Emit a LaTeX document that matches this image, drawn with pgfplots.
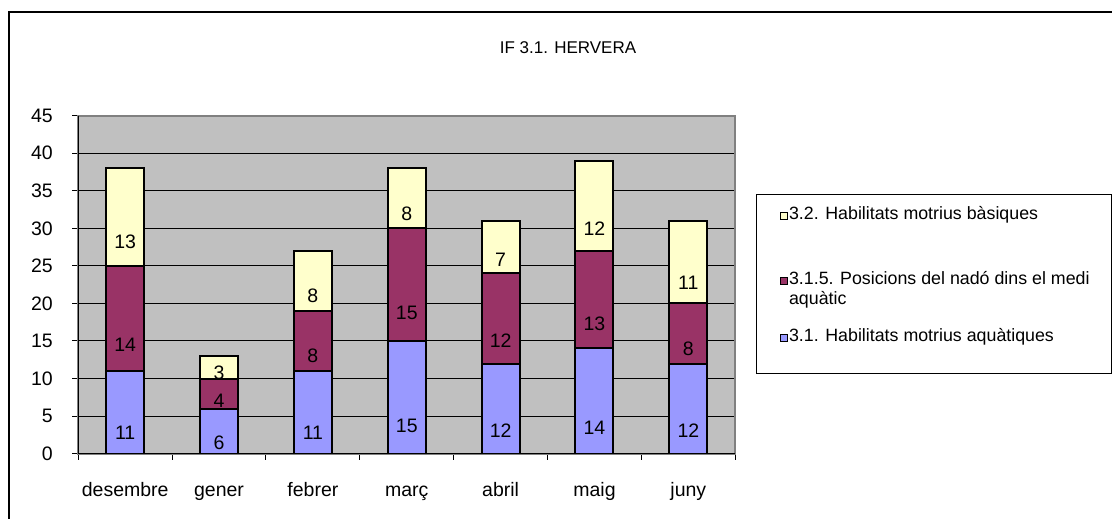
\documentclass[border=0pt]{standalone}
\usepackage{fontspec}
\setmainfont{Liberation Sans}
\usepackage{pgfplots}
\usepackage{pgfplotstable}
\pgfplotsset{compat=1.18}
\definecolor{serA}{HTML}{9999FF}
\definecolor{serB}{HTML}{993366}
\definecolor{serC}{HTML}{FFFFCC}
\definecolor{plotbg}{HTML}{C0C0C0}
\definecolor{plotframe}{HTML}{808080}

\pgfplotstableread{
x a b c
0 11 14 13
1 6 4 3
2 11 8 8
3 15 15 8
4 12 12 7
5 14 13 12
6 12 8 11
}\datatable

\begin{document}
\begin{tikzpicture}[x=1pt,y=1pt]
\useasboundingbox (0,0) rectangle (1112,519);
\begin{scope}
\clip (0,0) rectangle (1112,519);
\draw[line width=2.5pt] (9,-10) -- (9,507) -- (1130,507);
\end{scope}
\node[font=\fontsize{17}{20}\selectfont] at (568,471) {IF 3.1. HERVERA};
\begin{axis}[
  at={(133.4,87)}, anchor=origin,
  scale only axis, width=657pt, height=338pt,
  ybar stacked, bar width=38pt,
  xmin=-0.5, xmax=6.5, ymin=0, ymax=45,
  ytick={0,5,...,45},
  xtick={-0.5,0.5,...,6.5}, xticklabels={},
  extra x ticks={0,1,2,3,4,5,6},
  extra x tick labels={desembre,gener,febrer,març,abril,maig,juny},
  extra x tick style={major tick length=0pt, xticklabel style={text height=14pt, text depth=4pt, yshift=-25pt}},
  tick pos=left,
  tick align=outside, major tick length=6pt,
  tick style={black, line width=1pt},
  ymajorgrids, major grid style={black, line width=1pt},
  axis background/.style={fill=plotbg},
  axis line style={draw=plotframe, line width=2pt},
  /pgf/number format/assume math mode=true,
  tick label style={font=\fontsize{19.5}{22}\selectfont},
  yticklabel style={xshift=-16pt},
  every axis plot/.append style={draw=black, line width=2pt},
  nodes near coords,
  point meta=explicit,
  visualization depends on=rawy \as \rawy,
  every node near coord/.append style={anchor=center, yshift={-1.8778pt*\rawy}, font=\fontsize{19.5}{22}\selectfont, text=black},
  reverse legend,
  legend image code/.code={\draw[#1, draw=black, line width=1.3pt] (0pt,0.5pt) rectangle (7pt,7.5pt);},
  legend style={at={(axis description cs:1.032,0.7692)}, anchor=north west,
    draw=black, line width=1pt, fill=white,
    inner xsep=23pt, inner ysep=5.5pt, row sep=21pt,
    font=\fontsize{17.8}{20}\selectfont,
    nodes={inner sep=1pt, text depth=}, cells={anchor=base west},
    /tikz/every even column/.append style={column sep=0pt}},
  after end axis/.code={\draw[black, line width=1pt] (rel axis cs:0,1) -- (rel axis cs:0,0) -- (rel axis cs:1,0);},
]
\addplot[fill=serA] table[x=x, y=a, meta=a] {\datatable};
\addlegendentry{\raisebox{0pt}[13pt][25.5pt]{3.1. Habilitats motrius aquàtiques}}
\addplot[fill=serB] table[x=x, y=b, meta=b] {\datatable};
\addlegendentry{\raisebox{0pt}[38pt][21pt]{\parbox[t]{298pt}{\raggedright\mbox{3.1.5. Posicions del nadó dins el medi}\newline\mbox{aquàtic}}}}
\addplot[fill=serC] table[x=x, y=c, meta=c] {\datatable};
\addlegendentry{\raisebox{0pt}[19pt][4pt]{3.2. Habilitats motrius bàsiques}}
\end{axis}
\end{tikzpicture}
\end{document}
